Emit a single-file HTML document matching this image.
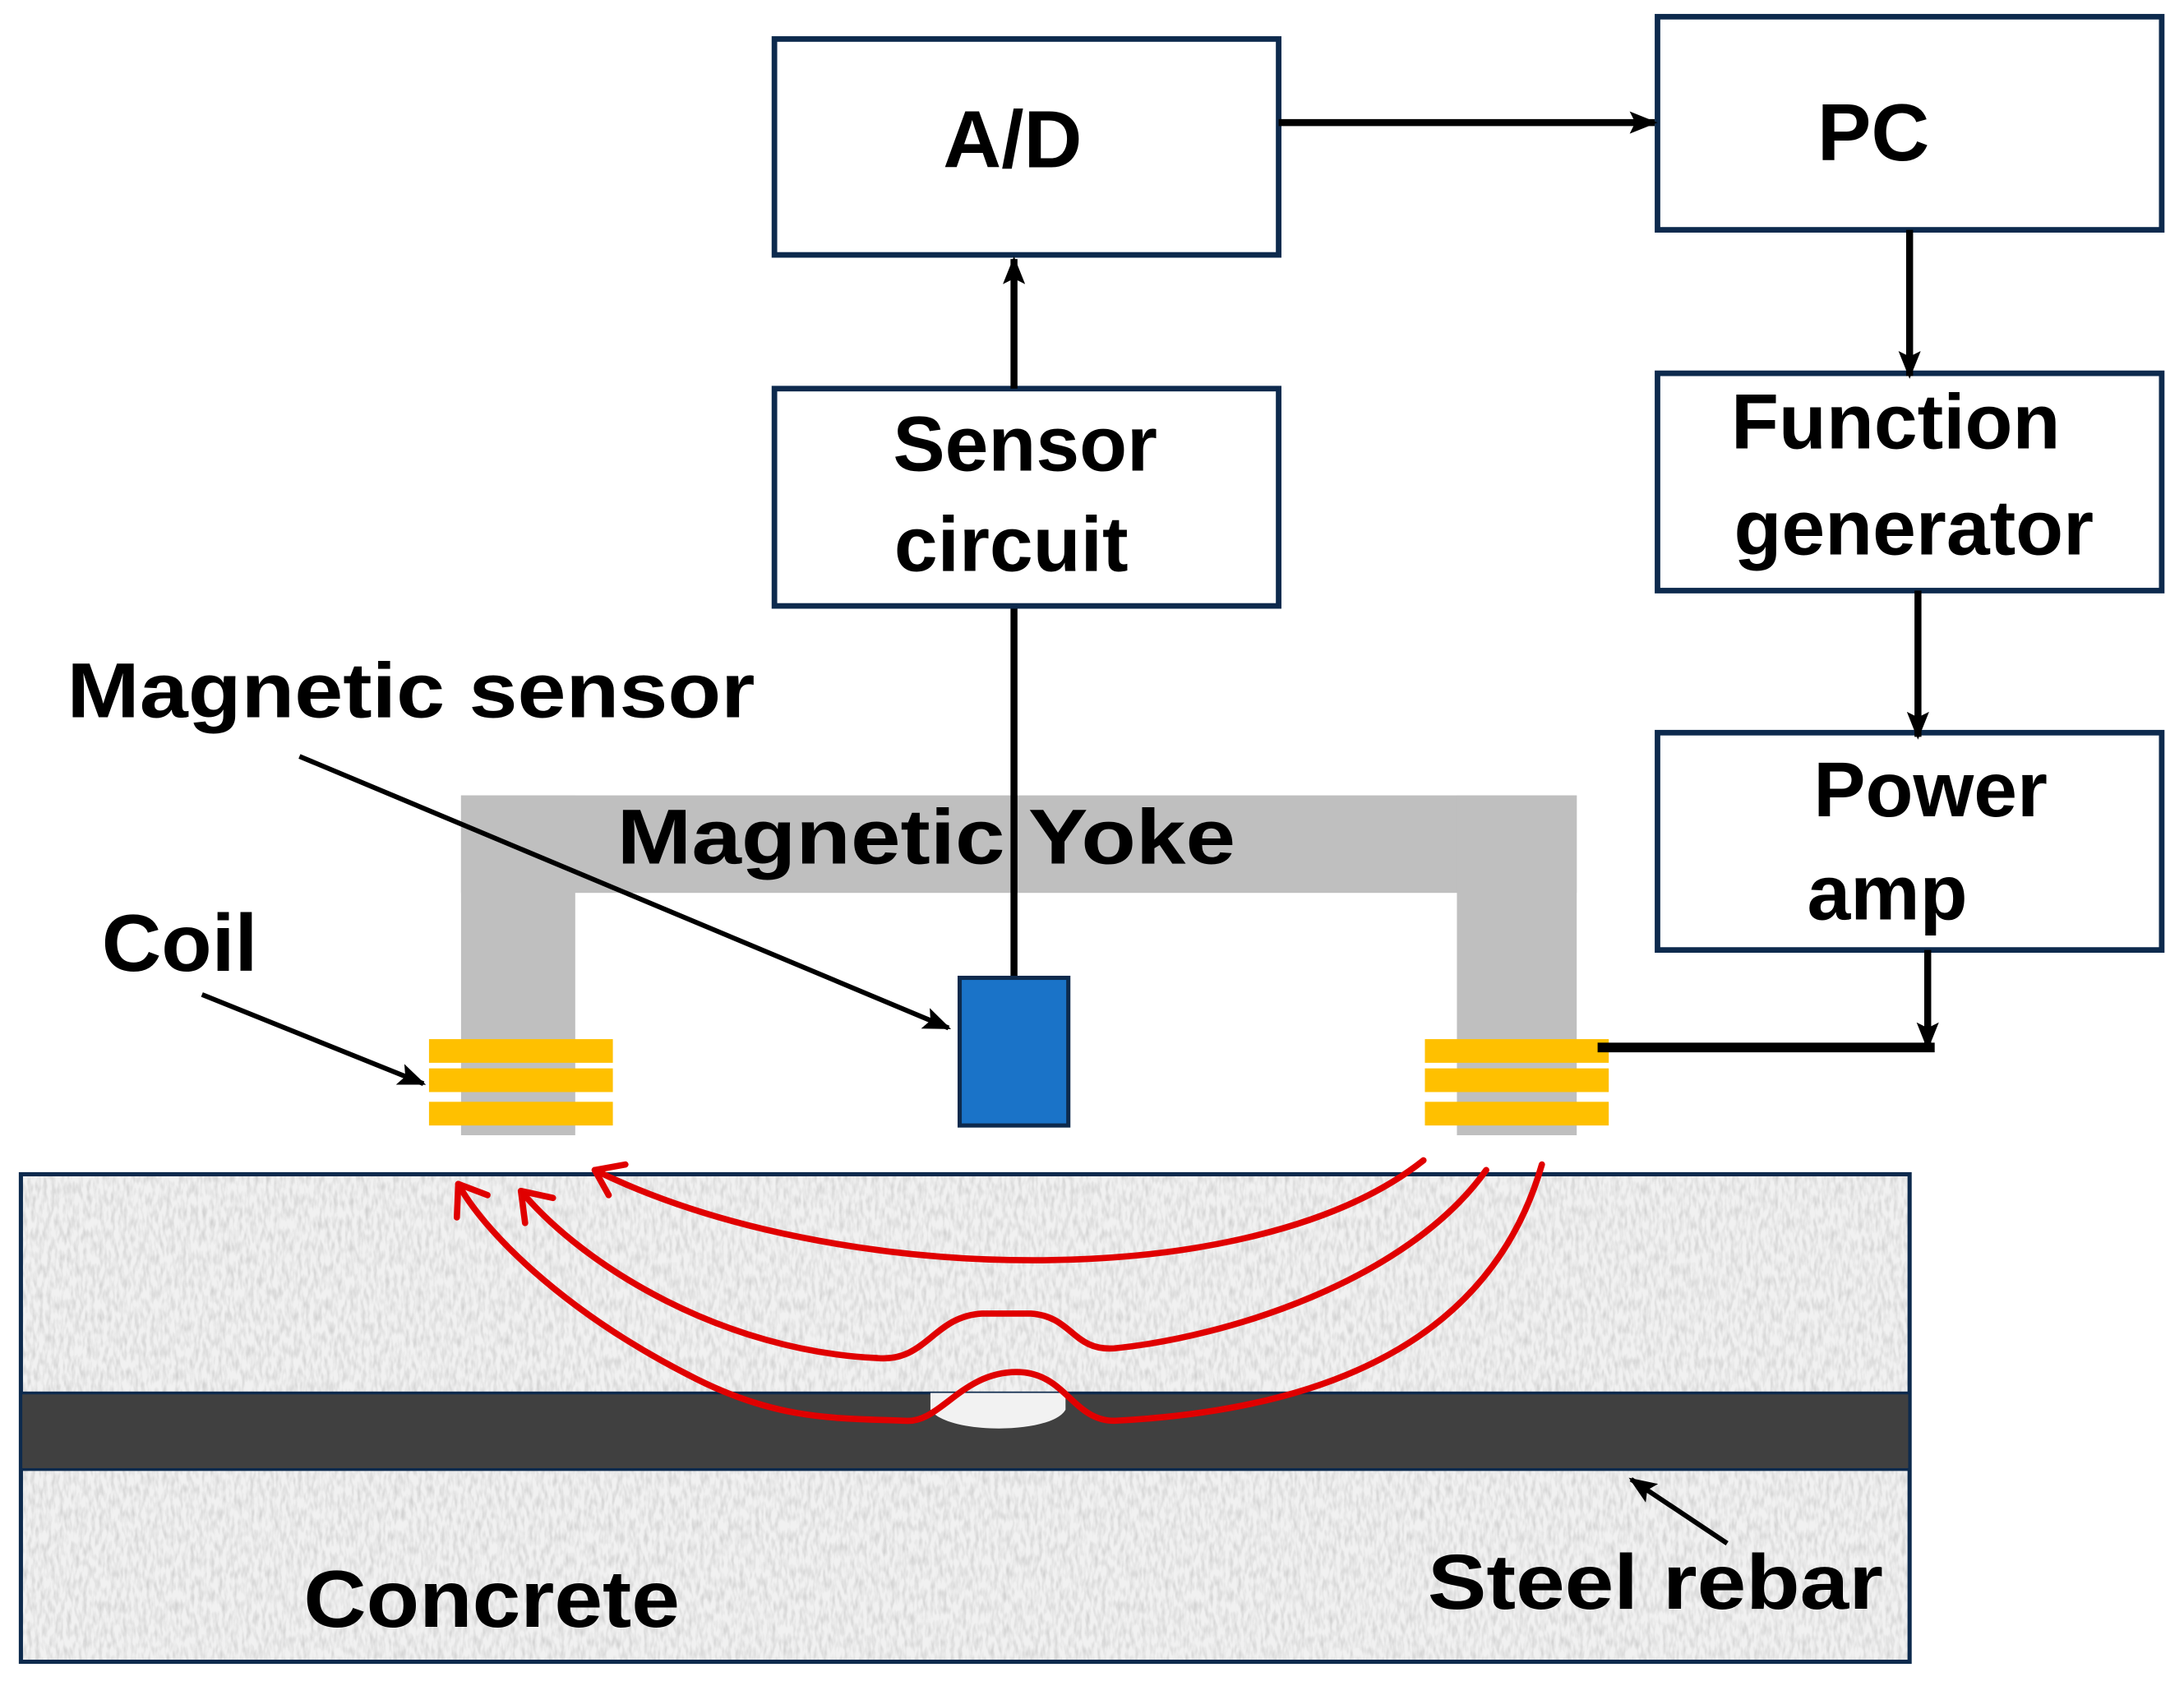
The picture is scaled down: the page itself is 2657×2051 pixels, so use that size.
<!DOCTYPE html>
<html><head><meta charset="utf-8"><style>
html,body{margin:0;padding:0;background:#fff;}
svg{display:block;}
text{font-family:"Liberation Sans",sans-serif;font-weight:bold;fill:#000;}
</style></head><body>
<svg width="2657" height="2051" viewBox="0 0 1568 1210.4" preserveAspectRatio="none" xmlns="http://www.w3.org/2000/svg">
<defs>
<filter id="noise" x="0" y="0" width="100%" height="100%">
<feTurbulence type="fractalNoise" baseFrequency="0.35 0.12" numOctaves="2" seed="3" result="t"/>
<feColorMatrix type="matrix" values="0 0 0 0 0.6  0 0 0 0 0.6  0 0 0 0 0.6  0 0 0 -1.6 1.0" />
</filter>
<marker id="ah2" markerWidth="20" markerHeight="16" refX="18" refY="8" orient="auto" markerUnits="userSpaceOnUse">
<path d="M0,0 L20,8 L0,16 L4,8 Z" fill="#000"/>
</marker>
</defs>

<rect x="15" y="843" width="1356" height="350" fill="#f1f1f1"/>
<rect x="15" y="843" width="1356" height="350" filter="url(#noise)"/>
<rect x="15" y="843" width="1356" height="350" fill="none" stroke="#0d2a4d" stroke-width="3"/>
<rect x="15" y="1000" width="1356" height="55" fill="#404040" stroke="#0d2a4d" stroke-width="2"/>
<path d="M668,1000 L668,1012 C680,1030 755,1030 765,1012 L765,1000 Z" fill="#f2f2f2"/>

<rect x="331" y="571" width="801" height="70" fill="#bfbfbf"/>
<rect x="331" y="571" width="82" height="244" fill="#bfbfbf"/>
<rect x="1046" y="571" width="86" height="244" fill="#bfbfbf"/>
<text x="443" y="620" font-size="56" textLength="444" lengthAdjust="spacingAndGlyphs">Magnetic Yoke</text>

<g fill="#ffc000">
<rect x="308" y="746" width="132" height="17"/><rect x="308" y="767" width="132" height="17"/><rect x="308" y="791" width="132" height="17"/>
<rect x="1023" y="746" width="132" height="17"/><rect x="1023" y="767" width="132" height="17"/><rect x="1023" y="791" width="132" height="17"/>
</g>

<line x1="728" y1="435" x2="728" y2="702" stroke="#000" stroke-width="5"/>
<rect x="689" y="702" width="78" height="106" fill="#1a73c8" stroke="#0d2a4d" stroke-width="3"/>

<g fill="#fff" stroke="#0d2a4d" stroke-width="4">
<rect x="556" y="28" width="362" height="155"/>
<rect x="1190" y="12" width="362" height="153"/>
<rect x="556" y="279" width="362" height="156"/>
<rect x="1190" y="268" width="362" height="156"/>
<rect x="1190" y="526" width="362" height="156"/>
</g>
<text x="727" y="120" font-size="58" text-anchor="middle">A/D</text>
<text x="1345" y="115" font-size="58" text-anchor="middle">PC</text>
<text x="736" y="338" font-size="56" text-anchor="middle">Sensor</text>
<text x="726" y="410" font-size="56" text-anchor="middle">circuit</text>
<text x="1361" y="322" font-size="56" text-anchor="middle">Function</text>
<text x="1374" y="398" font-size="56" text-anchor="middle">generator</text>
<text x="1386" y="586" font-size="56" text-anchor="middle">Power</text>
<text x="1355" y="660" font-size="56" text-anchor="middle">amp</text>

<g stroke="#000" stroke-width="5" fill="none">
<line x1="918" y1="88" x2="1188" y2="88" marker-end="url(#ah2)"/>
<line x1="728" y1="279" x2="728" y2="186" marker-end="url(#ah2)"/>
<line x1="1371" y1="165" x2="1371" y2="270" marker-end="url(#ah2)"/>
<line x1="1377" y1="424" x2="1377" y2="529" marker-end="url(#ah2)"/>
<line x1="1384" y1="682" x2="1384" y2="752" marker-end="url(#ah2)"/>
<line x1="1147" y1="752" x2="1389" y2="752" stroke-width="7"/>
</g>

<text x="48" y="515" font-size="56" textLength="494" lengthAdjust="spacingAndGlyphs">Magnetic sensor</text>
<line x1="215" y1="543" x2="681" y2="738" stroke="#000" stroke-width="3.5" marker-end="url(#ah2)"/>
<text x="73" y="697" font-size="58" textLength="112" lengthAdjust="spacingAndGlyphs">Coil</text>
<line x1="145" y1="714" x2="304" y2="778" stroke="#000" stroke-width="3.5" marker-end="url(#ah2)"/>
<text x="218" y="1168" font-size="58" textLength="270" lengthAdjust="spacingAndGlyphs">Concrete</text>
<text x="1025" y="1155" font-size="56" textLength="327" lengthAdjust="spacingAndGlyphs">Steel rebar</text>
<line x1="1240" y1="1108" x2="1171" y2="1062" stroke="#000" stroke-width="3.5" marker-end="url(#ah2)"/>

<g stroke="#e00000" stroke-width="4.5" fill="none" stroke-linecap="round">
<path d="M1022,833 C900,930 600,925 427,840"/>
<path d="M1067,840 C1010,920 880,960 800,968 C770,970 770,945 740,943 L705,943 C670,945 665,978 630,975 C520,970 420,910 374,855"/>
<path d="M1107,836 C1080,930 1000,1010 800,1020 C770,1020 765,985 730,985 C690,985 675,1022 650,1020 C600,1018 560,1020 500,990 C400,940 345,880 329,850"/>
<path d="M427,840 L449,836 M427,840 L437,858"/>
<path d="M374,855 L397,860 M374,855 L377,878"/>
<path d="M329,850 L350,858 M329,850 L328,874"/>
</g>
</svg>
</body></html>
